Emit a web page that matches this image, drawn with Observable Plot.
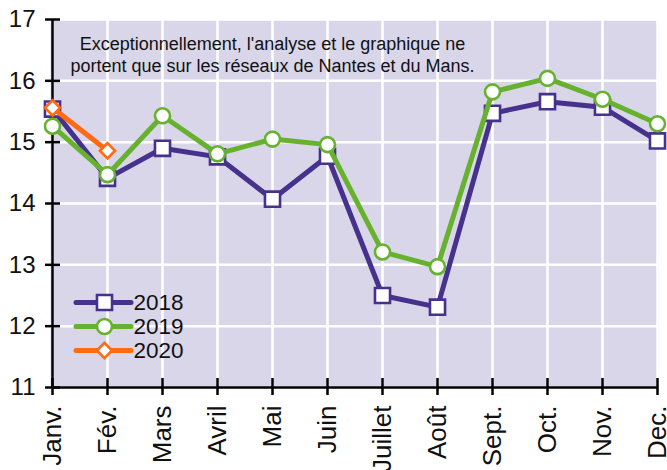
<!DOCTYPE html>
<html>
<head>
<meta charset="utf-8">
<script src="https://cdn.jsdelivr.net/npm/d3@7"></script>
<script src="https://cdn.jsdelivr.net/npm/@observablehq/plot@0.6"></script>
<style>
  html, body { margin: 0; padding: 0; background: white; }
</style>
</head>
<body>
<div id="chart"></div>
<script>
const months = ["Janv.", "Fév.", "Mars", "Avril", "Mai", "Juin", "Juillet", "Août", "Sept.", "Oct.", "Nov.", "Dec."];
const v2018 = [15.54, 14.41, 14.90, 14.76, 14.07, 14.77, 12.50, 12.31, 15.47, 15.66, 15.57, 15.02];
const v2019 = [15.26, 14.47, 15.43, 14.81, 15.05, 14.96, 13.21, 12.97, 15.82, 16.04, 15.70, 15.30];
const v2020 = [15.56, 14.86];
const yTicks = [11, 12, 13, 14, 15, 16, 17];
const noteText = "Exceptionnellement, l'analyse et le graphique ne\nportent que sur les réseaux de Nantes et du Mans.";

const seriesList = [
  {label: "2018", values: v2018, color: "#46318d", symbol: "square", r: 8.5, legendDy: -85},
  {label: "2019", values: v2019, color: "#66b22e", symbol: "circle", r: 7.5, legendDy: -61},
  {label: "2020", values: v2020, color: "#ff6a13", symbol: "diamond2", r: 6.8, legendDy: -37}
];

const first = () => months[0];
const second = () => months[1];
const last = () => months[months.length - 1];

const marks = [
  Plot.frame({fill: "#d9d6e9", stroke: null}),
  Plot.gridX(months, {stroke: "white", strokeOpacity: 1, strokeWidth: 2.5}),
  Plot.gridY(yTicks, {stroke: "white", strokeOpacity: 1, strokeWidth: 2.5}),
  Plot.ruleX([months[0]], {x: d => d, y1: 11, y2: 17, stroke: "black", strokeWidth: 2.5}),
  Plot.ruleY([11], {y: d => d, x1: first, x2: last, stroke: "black", strokeWidth: 2.5}),
  Plot.ruleY(yTicks, {y: d => d, x1: first, x2: first, insetLeft: -7, insetRight: -8, stroke: "black", strokeWidth: 2.5}),
  Plot.ruleX(months, {x: d => d, y1: 11, y2: 11, insetTop: -9, insetBottom: -8, stroke: "black", strokeWidth: 2.5}),
  Plot.axisY({ticks: yTicks, tickSize: 0, tickPadding: 15, fontSize: 24, label: null, tickFormat: d => String(d)}),
  Plot.axisX({tickSize: 0, tickPadding: 18, tickRotate: -90, fontSize: 26, label: null}),
  Plot.text([noteText], {x: () => "Mai", y: () => 16.44, text: d => d, fontSize: 18, lineHeight: 1.26, fill: "#111", textAnchor: "middle", lineAnchor: "middle"})
];

for (const s of seriesList) {
  const data = s.values.map((v, i) => ({month: months[i], value: v}));
  marks.push(
    Plot.line(data, {x: "month", y: "value", stroke: s.color, strokeWidth: 5, strokeLinejoin: "round"}),
    Plot.dot(data, {x: "month", y: "value", symbol: s.symbol, r: s.r, stroke: s.color, strokeWidth: 2.6, fill: "white"})
  );
}

for (const s of seriesList) {
  marks.push(
    Plot.ruleY([11], {y: d => d, x1: first, x2: second, dx: 24, dy: s.legendDy, stroke: s.color, strokeWidth: 5, strokeLinecap: "round"}),
    Plot.dot([11], {x: first, y: d => d, dx: 52, dy: s.legendDy, symbol: s.symbol, r: s.r, stroke: s.color, strokeWidth: 2.6, fill: "white"}),
    Plot.text([s.label], {x: second, y: () => 11, text: d => d, dx: 26, dy: s.legendDy, textAnchor: "start", fontSize: 22.5, fill: "#111"})
  );
}

const chart = Plot.plot({
  width: 667,
  height: 470,
  marginLeft: 50,
  marginRight: 9,
  marginTop: 19,
  marginBottom: 83,
  style: {fontFamily: "'Liberation Sans', Arial, sans-serif", background: "white", color: "#111", overflow: "visible"},
  x: {type: "point", domain: months, padding: 0, label: null},
  y: {domain: [11, 17], label: null},
  marks
});
document.getElementById("chart").appendChild(chart);
</script>
</body>
</html>
